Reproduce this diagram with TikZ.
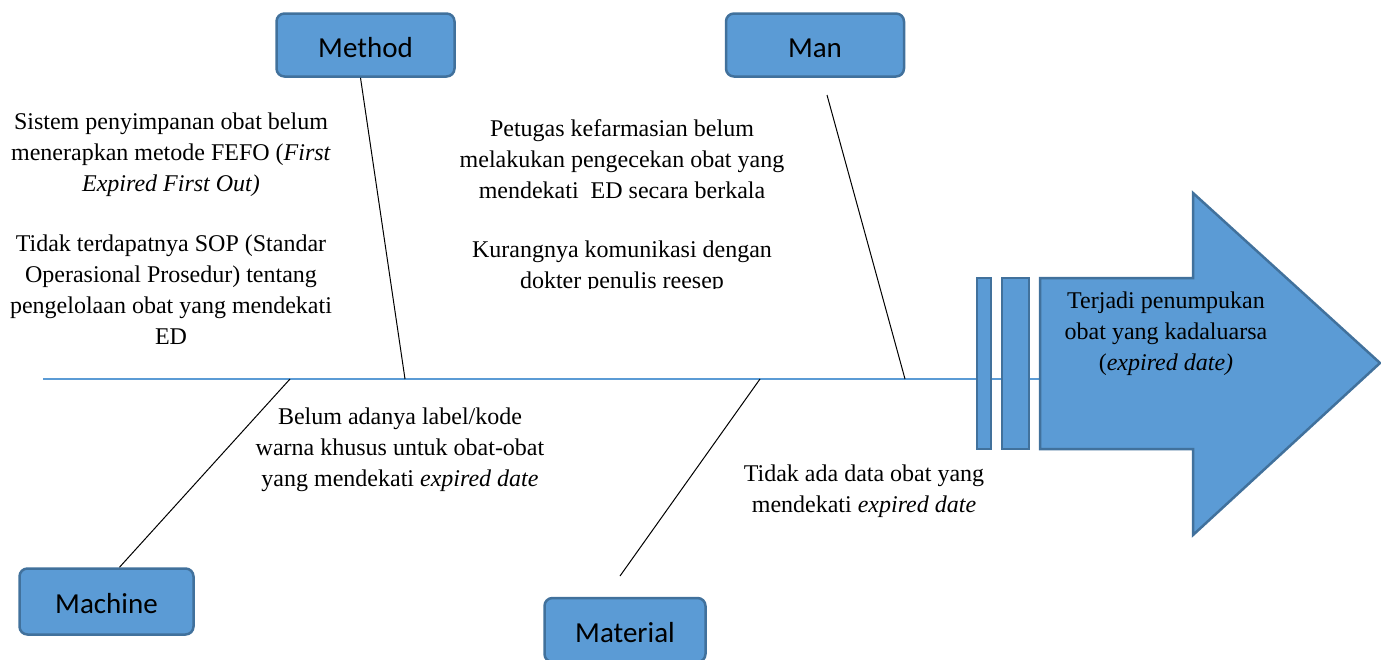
\documentclass[tikz,border=0pt]{standalone}
\usepackage{fontspec}
\setmainfont{Liberation Serif}
\newfontfamily\boxfont{Carlito}

\definecolor{boxfill}{HTML}{5B9BD5}
\definecolor{boxline}{HTML}{41719C}

\begin{document}
\begin{tikzpicture}[x=1pt, y=-1pt,
    category/.style={rounded corners=8pt, rectangle, draw=boxline, line width=2.5pt, fill=boxfill, minimum width=178pt, minimum height=63pt, text height=24pt, text depth=0pt, font=\boxfont\fontsize{29}{34}\selectfont},
    cause/.style={align=center, inner sep=0pt, font=\fontsize{24}{31}\selectfont},
    bone/.style={draw, line width=1pt}]
    \clip (0,0) rectangle (1381,659);

    % categories
    \node [category] (method) at (365.5,45) {Method};
    \node [category] (man) at (815,45) {Man};
    \node [category, minimum width=174pt, minimum height=66pt] (machine) at (106.5,601.5) {Machine};
    \node [category, minimum width=161pt, minimum height=64pt] (material) at (625,630) {Material};

    % spine and head
    \coordinate (spinetail) at (43,379);
    \coordinate (effecttail) at (1040,379);
    \path [draw=boxfill, line width=2pt] (spinetail) -- (effecttail);
    \path [draw=boxline, line width=2pt, fill=boxfill] (977,278) rectangle (991,449);
    \path [draw=boxline, line width=2pt, fill=boxfill] (1002,278) rectangle (1029,449);
    \path [draw=boxline, line width=2.5pt, fill=boxfill] (1040,278) -- (1193,278) -- (1193,193) -- (1380,363) -- (1193,535) -- (1193,449) -- (1040,449) -- cycle;
    \node [cause] (effect) at (1166,334) {Terjadi penumpukan\\obat yang kadaluarsa\\(\textit{expired date)}};

    % bones
    \coordinate (methodbone) at (405,379);
    \coordinate (mantail) at (827,95);
    \coordinate (manbone) at (905,379);
    \coordinate (machinebone) at (290,379);
    \coordinate (materialtail) at (620,576);
    \coordinate (materialbone) at (760,379);
    \path [bone] ([xshift=-5pt]method.south) -- (methodbone);
    \path [bone] (mantail) -- (manbone);
    \path [bone] ([xshift=13pt]machine.north) -- (machinebone);
    \path [bone] (materialtail) -- (materialbone);

    % causes
    \node [cause] (fefo) at (171,155) {Sistem penyimpanan obat belum\\menerapkan metode FEFO (\textit{First}\\\textit{Expired First Out)}};
    \node [cause] (sop) at (171,290) {Tidak terdapatnya SOP (Standar\\Operasional Prosedur) tentang\\pengelolaan obat yang mendekati\\ED};
    \node [cause] (petugas) at (622,159) {Petugas kefarmasian belum\\melakukan pengecekan obat yang\\mendekati\ \ ED secara berkala};
    \begin{scope}
        \clip (440,230) rectangle (810,288.5);
        \node [cause] (resep) at (622,267) {Kurangnya komunikasi dengan\\dokter penulis reesep};
    \end{scope}
    \node [cause] (label) at (400,450) {Belum adanya label/kode\\warna khusus untuk obat-obat\\yang mendekati \textit{expired date}};
    \node [cause] (data) at (864,491) {Tidak ada data obat yang\\mendekati \textit{expired date}};
\end{tikzpicture}
\end{document}
